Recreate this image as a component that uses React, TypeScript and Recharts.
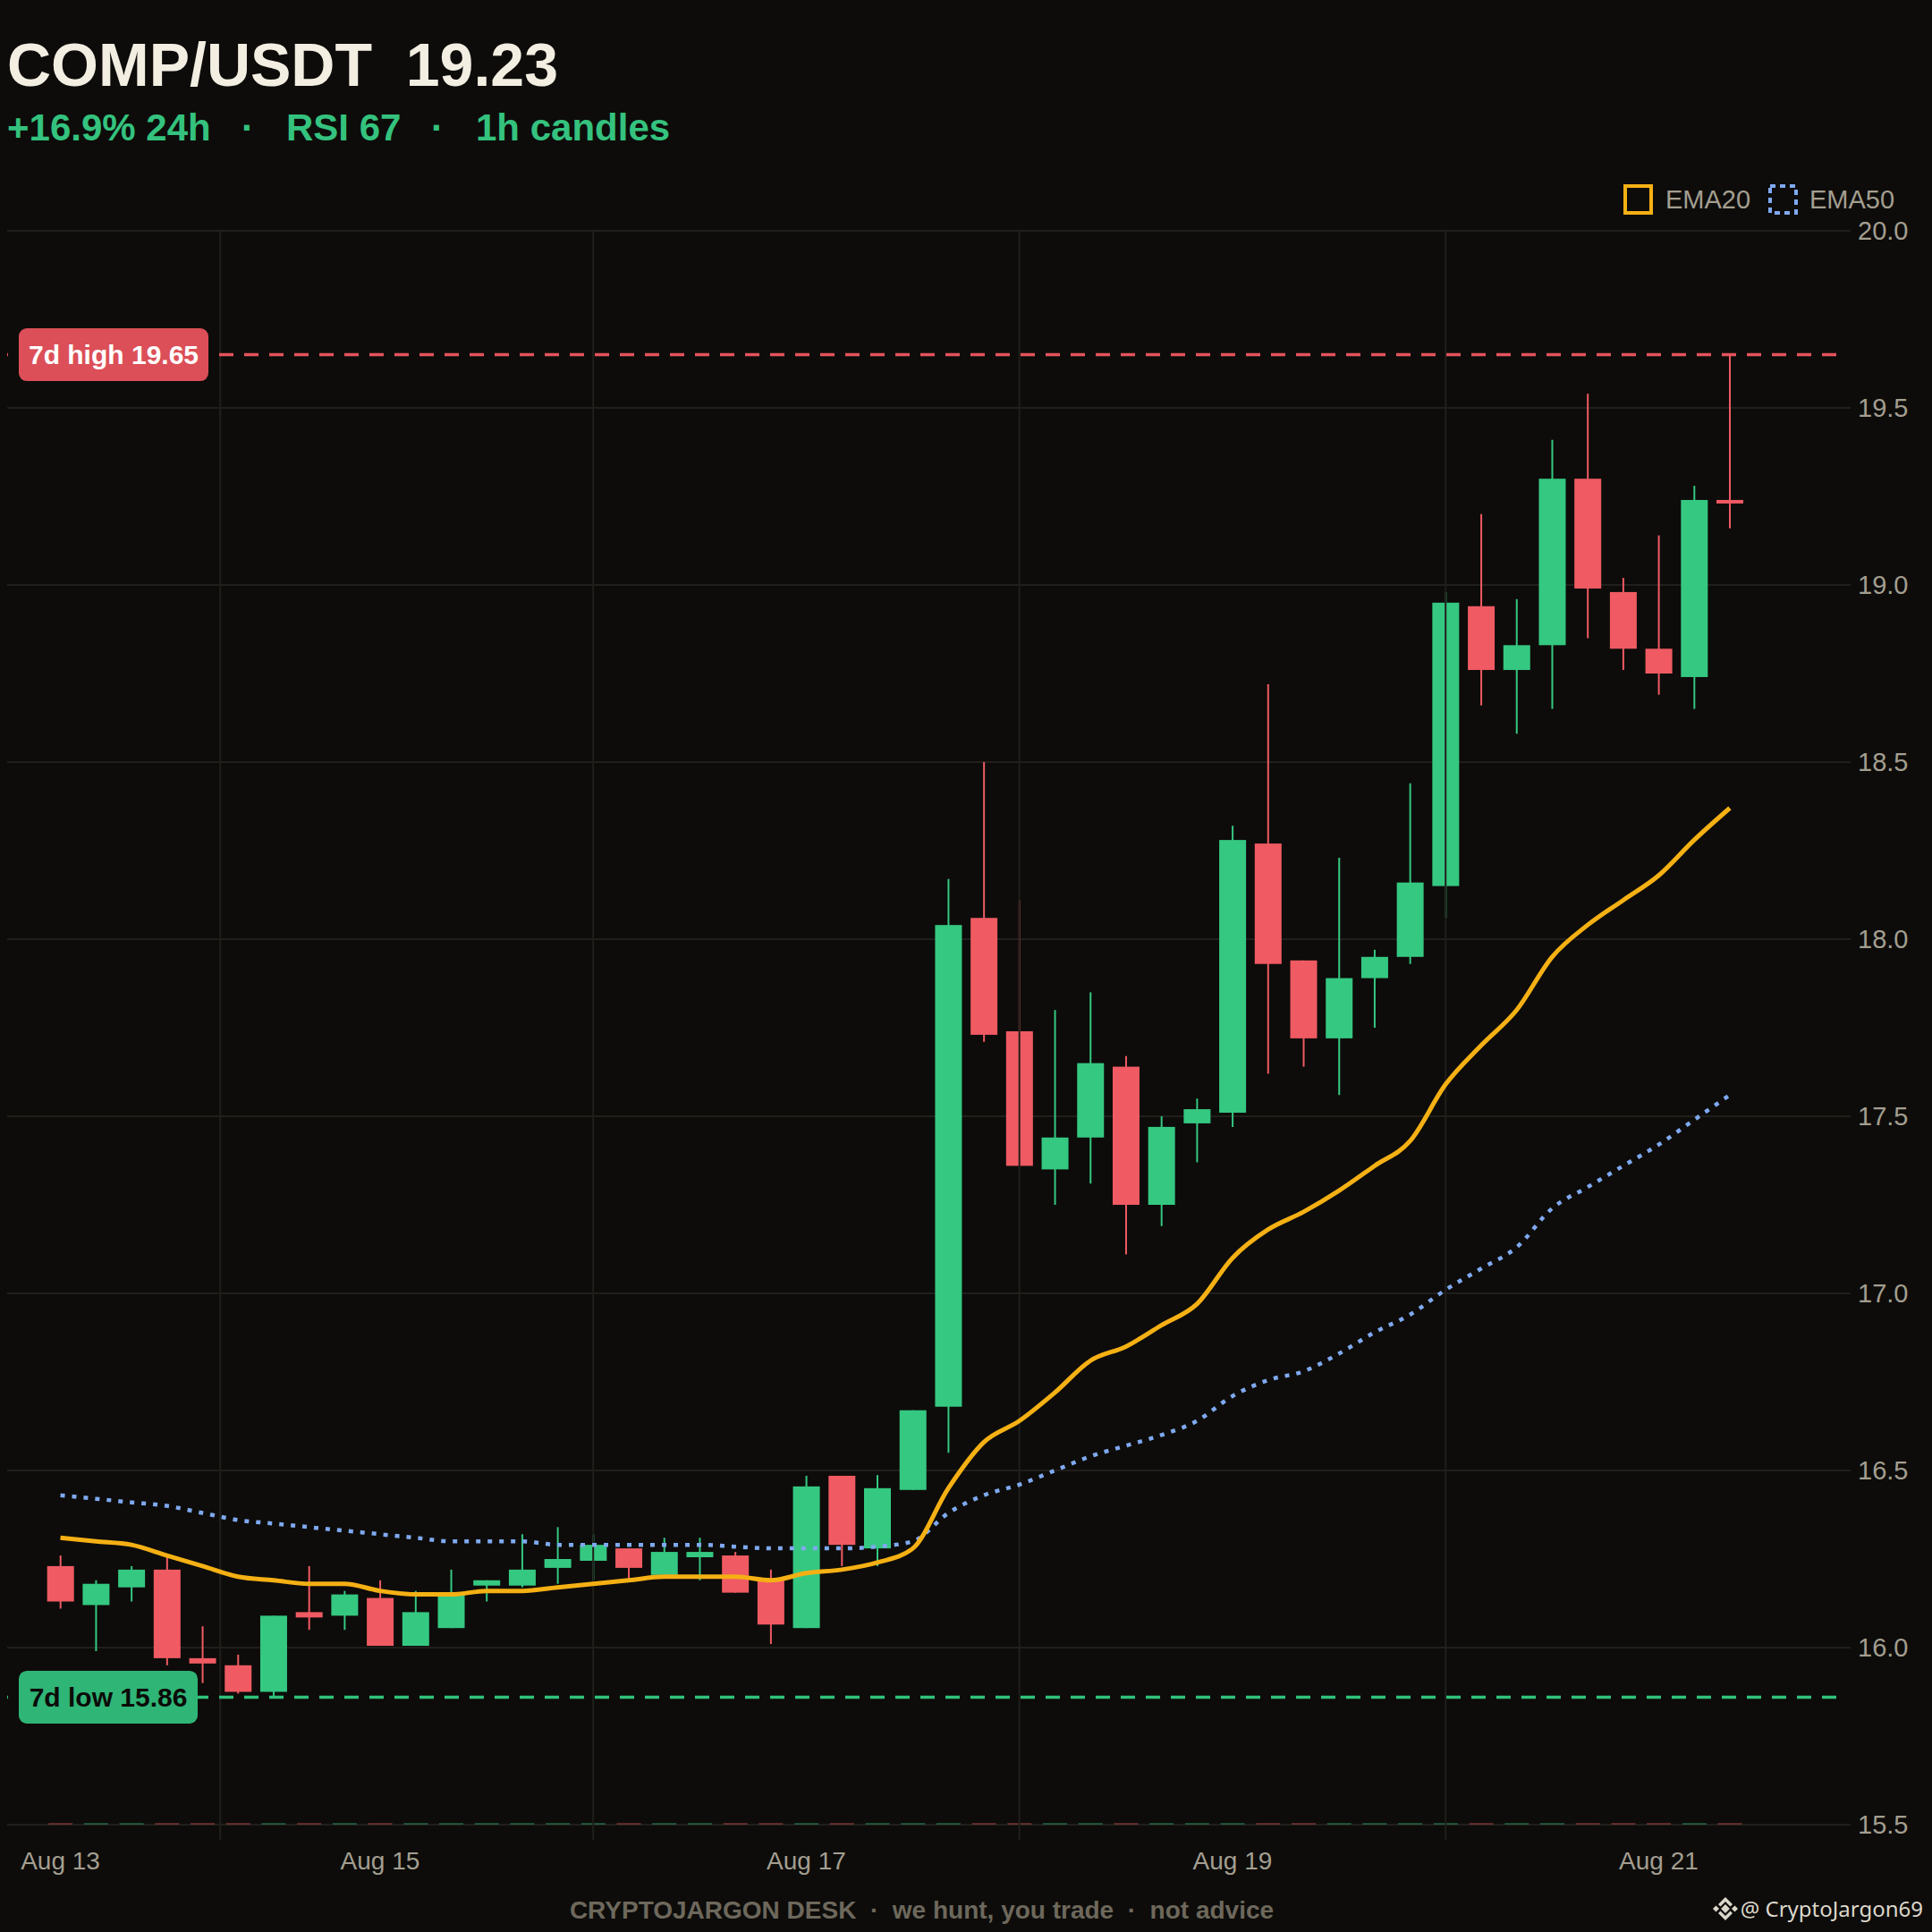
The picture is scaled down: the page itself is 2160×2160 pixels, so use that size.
import React from "react";
import {
  ComposedChart,
  Bar,
  Line,
  XAxis,
  YAxis,
  CartesianGrid,
  ReferenceLine,
} from "recharts";

const FONT = "'Liberation Sans', Arial, sans-serif";
const BG = "#0d0c0a";
const GRID = "#201f1b";
const MUTED = "#a39e90";
const GREEN = "#35c881";
const RED = "#f05a63";
const ORANGE = "#f5b014";
const BLUE = "#7fa9f0";

// OHLC, one entry per candle
const opens = [
  16.23, 16.12, 16.17, 16.22, 15.97, 15.95, 15.875, 16.1, 16.09, 16.14, 16.005, 16.055,
  16.175, 16.175, 16.225, 16.245, 16.28, 16.205, 16.255, 16.26, 16.19, 16.055, 16.485, 16.28,
  16.445, 16.68, 18.06, 17.74, 17.35, 17.44, 17.64, 17.25, 17.48, 17.51, 18.27, 17.94,
  17.72, 17.89, 17.95, 18.15, 18.94, 18.76, 18.83, 19.3, 18.98, 18.82, 18.74, 19.24,
];
const highs = [
  16.26, 16.19, 16.23, 16.26, 16.06, 15.98, 16.09, 16.23, 16.16, 16.19, 16.16, 16.22,
  16.19, 16.32, 16.34, 16.32, 16.28, 16.31, 16.31, 16.27, 16.22, 16.485, 16.485, 16.487,
  16.67, 18.17, 18.5, 18.11, 17.8, 17.85, 17.67, 17.5, 17.55, 18.32, 18.72, 17.94,
  18.23, 17.97, 18.44, 18.98, 19.2, 18.96, 19.41, 19.54, 19.02, 19.14, 19.28, 19.65,
];
const lows = [
  16.11, 15.99, 16.13, 15.95, 15.9, 15.87, 15.86, 16.05, 16.05, 16.005, 16.005, 16.055,
  16.13, 16.17, 16.18, 16.19, 16.19, 16.205, 16.19, 16.155, 16.01, 16.055, 16.23, 16.23,
  16.445, 16.55, 17.71, 17.36, 17.25, 17.31, 17.11, 17.19, 17.37, 17.47, 17.62, 17.64,
  17.56, 17.75, 17.93, 18.06, 18.66, 18.58, 18.65, 18.85, 18.76, 18.69, 18.65, 19.16,
];
const closes = [
  16.13, 16.18, 16.22, 15.97, 15.955, 15.875, 16.09, 16.085, 16.15, 16.005, 16.1, 16.15,
  16.19, 16.22, 16.25, 16.29, 16.225, 16.27, 16.27, 16.155, 16.065, 16.455, 16.29, 16.45,
  16.67, 18.04, 17.73, 17.36, 17.44, 17.65, 17.25, 17.47, 17.52, 18.28, 17.93, 17.72,
  17.89, 17.95, 18.16, 18.95, 18.76, 18.83, 19.3, 18.99, 18.82, 18.75, 19.24, 19.23,
];
const ema20 = [
  16.31, 16.3, 16.29, 16.26, 16.23, 16.2, 16.19, 16.18, 16.18, 16.16, 16.15, 16.15,
  16.16, 16.16, 16.17, 16.18, 16.19, 16.2, 16.2, 16.2, 16.19, 16.21, 16.22, 16.24,
  16.28, 16.45, 16.58, 16.64, 16.72, 16.81, 16.85, 16.91, 16.97, 17.1, 17.18, 17.23,
  17.29, 17.36, 17.43, 17.59, 17.7, 17.8, 17.95, 18.04, 18.11, 18.18, 18.28, 18.37,
];
const ema50 = [
  16.43, 16.42, 16.41, 16.4, 16.38, 16.36, 16.35, 16.34, 16.33, 16.32, 16.31, 16.3,
  16.3, 16.3, 16.29, 16.29, 16.29, 16.29, 16.29, 16.285, 16.28, 16.28, 16.28, 16.285,
  16.3, 16.38, 16.43, 16.46, 16.5, 16.54, 16.57, 16.6, 16.64, 16.71, 16.755, 16.78,
  16.83, 16.89, 16.94, 17.01, 17.07, 17.13, 17.24, 17.3, 17.36, 17.42, 17.49, 17.56,
];

const dayTicks = [0, 9, 21, 33, 45];
const dayLabels = ["Aug 13", "Aug 15", "Aug 17", "Aug 19", "Aug 21"];
const dayLines = [4.5, 15, 27, 39];
const priceTicks = [15.5, 16, 16.5, 17, 17.5, 18, 18.5, 19, 19.5, 20];
const high7d = 19.65;
const low7d = 15.86;

const rows = opens.map((o, i) => ({
  i,
  o,
  h: highs[i],
  l: lows[i],
  c: closes[i],
  range: [lows[i], highs[i]],
  ema20: ema20[i],
  ema50: ema50[i],
}));

function Candle(props: any) {
  const { x, y, width, height, payload } = props;
  if (payload == null || x == null) return null;
  const { o, h, l, c } = payload;
  const color = c >= o ? GREEN : RED;
  const top = Math.min(y, y + height);
  const span = Math.abs(height);
  const ppu = span / (h - l);
  const yOf = (v: number) => top + (h - v) * ppu;
  const cx = x + width / 2;
  const bTop = yOf(Math.max(o, c));
  const bBot = yOf(Math.min(o, c));
  const floor = yOf(priceTicks[0]);
  return (
    <g>
      <rect x={cx - 13.5} y={floor - 2} width={27} height={2} fill={color} opacity={0.35} />
      <line x1={cx} x2={cx} y1={top} y2={top + span} stroke={color} strokeWidth={2} />
      <rect x={cx - 15} y={bTop} width={30} height={Math.max(bBot - bTop, 3)} fill={color} />
    </g>
  );
}

function Badge(props: any) {
  const { viewBox, text, fill, color, w } = props;
  const bx = viewBox.x + 13;
  const y = viewBox.y;
  return (
    <g>
      <rect x={bx} y={y - 29.5} width={w} height={59} rx={9} fill={fill} />
      <text
        x={bx + w / 2}
        y={y + 10.5}
        textAnchor="middle"
        fill={color}
        fontSize={30}
        fontWeight={700}
        fontFamily={FONT}
      >
        {text}
      </text>
    </g>
  );
}

function DayTick(props: any) {
  const { x, y, payload } = props;
  return (
    <text x={x} y={y + 33} textAnchor="middle" fill={MUTED} fontSize={28} fontFamily={FONT}>
      {dayLabels[dayTicks.indexOf(payload.value)]}
    </text>
  );
}

function BinanceMark({ x, y }: { x: number; y: number }) {
  return (
    <g transform={`translate(${x},${y})`} fill="#dcd7cb">
      <rect x={-3.5} y={-3.5} width={7} height={7} transform="rotate(45)" />
      <rect x={-13} y={-2.5} width={5} height={5} transform="rotate(45 -10.5 0)" />
      <rect x={8} y={-2.5} width={5} height={5} transform="rotate(45 10.5 0)" />
      <path d="M-8,-5 L0,-13 L8,-5 L5.5,-2.5 L0,-8 L-5.5,-2.5 Z" />
      <path d="M-8,5 L0,13 L8,5 L5.5,2.5 L0,8 L-5.5,2.5 Z" />
    </g>
  );
}

export default function App() {
  return (
    <div style={{ position: "absolute", left: 0, top: 0, width: 2160, height: 2160, background: BG }}>
      <ComposedChart
        width={2160}
        height={2160}
        data={rows}
        margin={{ top: 258, right: 0, bottom: 43, left: 8 }}
      >
        <CartesianGrid xAxisId="main" vertical={false} stroke={GRID} strokeWidth={2} />
        <XAxis
          xAxisId="days"
          type="number"
          dataKey="i"
          domain={[-1.5, 50]}
          ticks={dayLines}
          interval={0}
          tick={() => <g />}
          tickLine={{ stroke: GRID, strokeWidth: 2 }}
          tickSize={17}
          axisLine={false}
          height={17}
        />
        <XAxis
          xAxisId="main"
          type="number"
          dataKey="i"
          domain={[-1.5, 50]}
          ticks={dayTicks}
          interval={0}
          tick={<DayTick />}
          tickLine={false}
          tickSize={0}
          tickMargin={0}
          axisLine={false}
          height={60}
        />
        <YAxis
          orientation="right"
          domain={[15.5, 20]}
          ticks={priceTicks}
          interval={0}
          tickFormatter={(v: number) => v.toFixed(1)}
          tick={{ fill: MUTED, fontSize: 29, fontFamily: FONT }}
          tickLine={{ stroke: GRID, strokeWidth: 2 }}
          tickSize={16}
          tickMargin={8}
          axisLine={false}
          width={107}
        />
        {dayLines.map((d) => (
          <ReferenceLine key={d} xAxisId="main" x={d} stroke={GRID} strokeWidth={2} />
        ))}
        <Line
          xAxisId="main"
          type="monotone"
          dataKey="ema50"
          stroke={BLUE}
          strokeWidth={4.5}
          strokeDasharray="5 8"
          dot={false}
          isAnimationActive={false}
        />
        <Line
          xAxisId="main"
          type="monotone"
          dataKey="ema20"
          stroke={ORANGE}
          strokeWidth={5}
          dot={false}
          isAnimationActive={false}
        />
        <Bar xAxisId="main" dataKey="range" barSize={30} shape={<Candle />} isAnimationActive={false} />
        <ReferenceLine
          xAxisId="main"
          y={high7d}
          stroke="#e5535e"
          strokeWidth={3.5}
          strokeDasharray="16 12"
          label={(p: any) => (
            <Badge viewBox={p.viewBox} text={`7d high ${high7d.toFixed(2)}`} fill="#dc4f58" color="#ffffff" w={212} />
          )}
        />
        <ReferenceLine
          xAxisId="main"
          y={low7d}
          stroke="#2fc27a"
          strokeWidth={3.5}
          strokeDasharray="16 12"
          label={(p: any) => (
            <Badge viewBox={p.viewBox} text={`7d low ${low7d.toFixed(2)}`} fill="#2fb576" color="#0b0b08" w={200} />
          )}
        />
      </ComposedChart>

      <svg
        width={2160}
        height={2160}
        style={{ position: "absolute", left: 0, top: 0, pointerEvents: "none" }}
        fontFamily={FONT}
      >
        <text x={8} y={96} fill="#f3eee2" fontSize={68} fontWeight={700} style={{ whiteSpace: "pre" }}>
          {"COMP/USDT  19.23"}
        </text>
        <g fill="#34c27e" fontSize={42} fontWeight={700}>
          <text x={8} y={157}>+16.9% 24h</text>
          <text x={277} y={157} textAnchor="middle">·</text>
          <text x={320} y={157}>RSI 67</text>
          <text x={489} y={157} textAnchor="middle">·</text>
          <text x={532} y={157}>1h candles</text>
        </g>

        <rect x={1817} y={208} width={29} height={30} fill="none" stroke={ORANGE} strokeWidth={4} />
        <text x={1862} y={233} fill={MUTED} fontSize={29}>EMA20</text>
        <rect x={1979} y={208} width={29} height={30} fill="none" stroke={BLUE} strokeWidth={4} strokeDasharray="6 5" />
        <text x={2023} y={233} fill={MUTED} fontSize={29}>EMA50</text>

        <text
          x={1030.5}
          y={2145}
          textAnchor="middle"
          fill="#6d685c"
          fontSize={28}
          fontWeight={700}
          style={{ whiteSpace: "pre" }}
        >
          {"CRYPTOJARGON DESK  ·  we hunt, you trade  ·  not advice"}
        </text>
        <BinanceMark x={1929} y={2134} />
        <text x={2150} y={2143} textAnchor="end" fill="#dcd7cb" fontSize={24} fontFamily="'Noto Sans', sans-serif">
          @ CryptoJargon69
        </text>
      </svg>
    </div>
  );
}
